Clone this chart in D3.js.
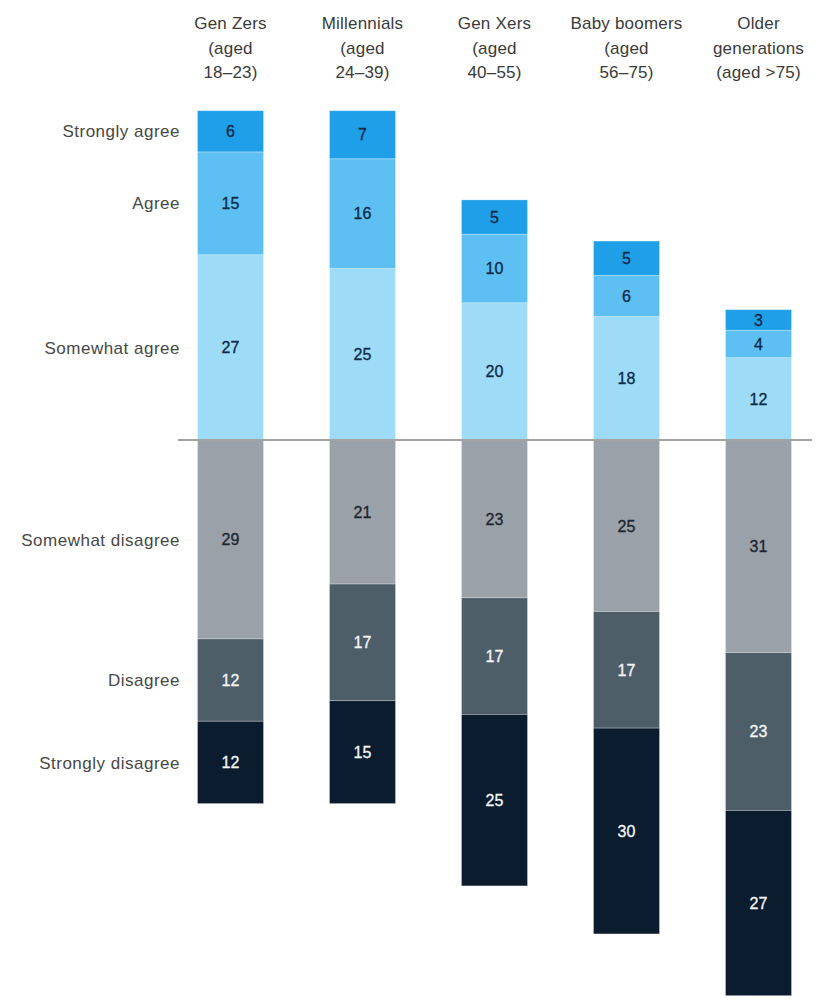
<!DOCTYPE html>
<html>
<head>
<meta charset="utf-8">
<script src="https://cdn.jsdelivr.net/npm/d3@7"></script>
<style>
  html, body { margin: 0; padding: 0; background: #fff; }
  svg { display: block; }
  text { font-family: "Liberation Sans", Arial, sans-serif; }
</style>
</head>
<body>
<svg id="chart" width="823" height="1001"></svg>
<script>
// Generations (columns) and their header lines
const generations = ["Gen Zers", "Millennials", "Gen Xers", "Baby boomers", "Older generations"];
const headerLines = [
  ["Gen Zers", "(aged", "18–23)"],
  ["Millennials", "(aged", "24–39)"],
  ["Gen Xers", "(aged", "40–55)"],
  ["Baby boomers", "(aged", "56–75)"],
  ["Older", "generations", "(aged >75)"]
];

// Response categories, top to bottom
const responses = ["Strongly agree", "Agree", "Somewhat agree", "Somewhat disagree", "Disagree", "Strongly disagree"];

// Share of respondents, %, one value per generation
const stronglyAgree    = [6, 7, 5, 5, 3];
const agree            = [15, 16, 10, 6, 4];
const somewhatAgree    = [27, 25, 20, 18, 12];
const somewhatDisagree = [29, 21, 23, 25, 31];
const disagree         = [12, 17, 17, 17, 23];
const stronglyDisagree = [12, 15, 25, 30, 27];

const colors = ["#1e9fe8", "#5ec0f2", "#9ddbf7", "#9aa1a8", "#4e5e69", "#0b1c2e"];
const textColors = ["#0d2a48", "#0d2a48", "#0d2a48", "#1c2530", "#f4f6f8", "#f4f6f8"];

const series = [stronglyAgree, agree, somewhatAgree, somewhatDisagree, disagree, stronglyDisagree];

// Build diverging stacks: agree responses go up from zero, disagree go down
const segments = [];
generations.forEach((g, gi) => {
  let up = 0;
  for (let r = 2; r >= 0; r--) {
    const v = series[r][gi];
    segments.push({ g, gi, r, v, y0: up, y1: up + v });
    up += v;
  }
  let down = 0;
  for (let r = 3; r <= 5; r++) {
    const v = series[r][gi];
    segments.push({ g, gi, r, v, y0: down - v, y1: down });
    down -= v;
  }
});

const svg = d3.select("#chart");

const x = d3.scaleBand()
  .domain(generations)
  .range([164.5, 824.5])
  .paddingInner(0.5)
  .paddingOuter(0.25);

const y = d3.scaleLinear()
  .domain([-85, 50])
  .range([440 + 85 * 6.86, 440 - 50 * 6.86]);

// Bars
svg.append("g")
  .selectAll("rect")
  .data(segments)
  .join("rect")
  .attr("x", d => x(d.g))
  .attr("width", x.bandwidth())
  .attr("y", d => y(d.y1))
  .attr("height", d => y(d.y0) - y(d.y1))
  .attr("fill", d => colors[d.r])
  .attr("stroke", "#ffffff")
  .attr("stroke-opacity", 0.35)
  .attr("stroke-width", 0.8);

// Value labels inside segments
svg.append("g")
  .selectAll("text")
  .data(segments)
  .join("text")
  .attr("x", d => x(d.g) + x.bandwidth() / 2)
  .attr("y", d => (y(d.y0) + y(d.y1)) / 2)
  .attr("dy", "0.36em")
  .attr("text-anchor", "middle")
  .attr("font-size", 16)
  .attr("fill", d => textColors[d.r])
  .attr("stroke", d => textColors[d.r])
  .attr("stroke-width", 0.3)
  .text(d => d.v);

// Zero line
svg.append("line")
  .attr("x1", 178).attr("x2", 812)
  .attr("y1", y(0)).attr("y2", y(0))
  .attr("stroke", "#a3a3a3")
  .attr("stroke-width", 2);

// Column headers
const header = svg.append("g")
  .selectAll("text")
  .data(generations)
  .join("text")
  .attr("text-anchor", "middle")
  .attr("font-size", 17)
  .attr("letter-spacing", 0.2)
  .attr("fill", "#3a3a3a");
header.each(function(g, i) {
  const t = d3.select(this);
  headerLines[i].forEach((line, li) => {
    t.append("tspan")
      .attr("x", x(g) + x.bandwidth() / 2)
      .attr("y", 29 + li * 24.5)
      .text(line);
  });
});

// Row labels, aligned with the first column's segments
const firstCol = segments.filter(d => d.gi === 0);
svg.append("g")
  .selectAll("text")
  .data(responses)
  .join("text")
  .attr("x", 180)
  .attr("y", (r, i) => {
    const s = firstCol.find(d => d.r === i);
    return (y(s.y0) + y(s.y1)) / 2;
  })
  .attr("dy", "0.36em")
  .attr("text-anchor", "end")
  .attr("font-size", 17)
  .attr("letter-spacing", 0.5)
  .attr("fill", "#474747")
  .text(d => d);
</script>
</body>
</html>
